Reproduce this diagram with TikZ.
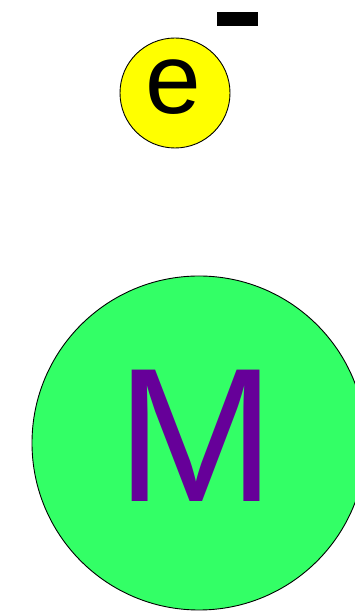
\documentclass[tikz,border=0pt]{standalone}
\usepackage{fontspec}
\setmainfont{Liberation Sans}
\definecolor{eyellow}{HTML}{FFFF00}
\definecolor{mgreen}{HTML}{33FF66}
\definecolor{mpurple}{HTML}{660099}
\begin{document}
\begin{tikzpicture}[x=1pt,y=1pt,
  ball/.style={circle,draw=black,line width=0.9pt,inner sep=0pt}]
\useasboundingbox (0,0) rectangle (354,613);
\node[ball,fill=eyellow,minimum size=110pt] (eball) at (175,520) {};
\node[ball,fill=mgreen,minimum size=334pt] (mball) at (199,170) {};
\node[anchor=base,inner sep=0pt,font=\fontsize{100}{100}\selectfont] (elabel) at (173.5,499) {e};
\node[anchor=base,inner sep=0pt,text=mpurple,font=\fontsize{191}{191}\selectfont] (mlabel) at (196.5,111) {M};
\fill[black] (217,587) rectangle (258,601);
\end{tikzpicture}
\end{document}
